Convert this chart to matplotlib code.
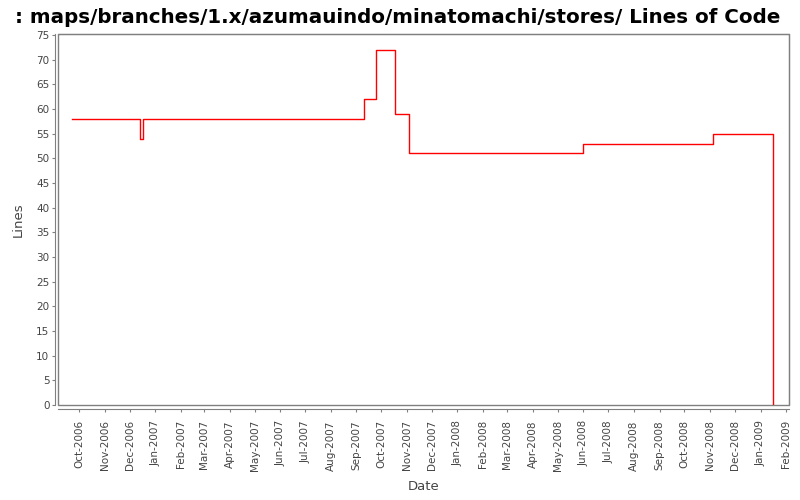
import pandas as pd
import matplotlib
matplotlib.use('Agg')
import matplotlib.pyplot as plt
import matplotlib.dates as mdates
from matplotlib.patches import Rectangle

# Lines of code over time (step changes)
change_dates = ['2006-09-22', '2006-12-14', '2006-12-17', '2007-09-10', '2007-09-24',
                '2007-10-17', '2007-11-03', '2008-06-01', '2008-11-04', '2009-01-16']
line_counts = [58, 54, 58, 62, 72, 59, 51, 53, 55, 0]

dates = pd.to_datetime(change_dates)
grey = '#808080'
text_grey = '#444444'

fig = plt.figure(figsize=(8, 5), dpi=100)
ax = fig.add_axes([0.0725, 0.19, 0.914, 0.742])

ax.plot(dates, line_counts, color='#ff0000', linewidth=1, drawstyle='steps-post')

ax.set_xlim(pd.Timestamp('2006-09-05 14:00'), pd.Timestamp('2009-02-04 14:00'))
ax.set_ylim(0, 75.2)
ax.set_yticks(range(0, 80, 5))

ax.xaxis.set_major_locator(mdates.MonthLocator())
ax.xaxis.set_major_formatter(mdates.DateFormatter('%b-%Y'))
ax.tick_params(axis='x', labelrotation=90)

# frame plus offset axis lines, JFreeChart style
for side in ['top', 'right', 'left', 'bottom']:
    ax.spines[side].set_color(grey)
ax.spines['left'].set_position(('outward', 2.2))
ax.spines['bottom'].set_position(('outward', 2.9))
ax.add_patch(Rectangle((0, 0), 1, 1, transform=ax.transAxes, fill=False,
                       edgecolor=grey, linewidth=1, clip_on=False))

ax.tick_params(axis='both', colors=grey, labelcolor=text_grey, labelsize=7.5,
               length=2, width=0.8, pad=2)
ax.tick_params(axis='x', pad=6)

ax.set_xlabel('Date', fontsize=9.5, color=text_grey, labelpad=6)
ax.set_ylabel('Lines', fontsize=9.5, color=text_grey, labelpad=8)
fig.text(0.4975, 0.965, ': maps/branches/1.x/azumauindo/minatomachi/stores/ Lines of Code',
         fontsize=14.3, fontweight='bold', ha='center', va='center')

fig.savefig('out.png', dpi=100)
